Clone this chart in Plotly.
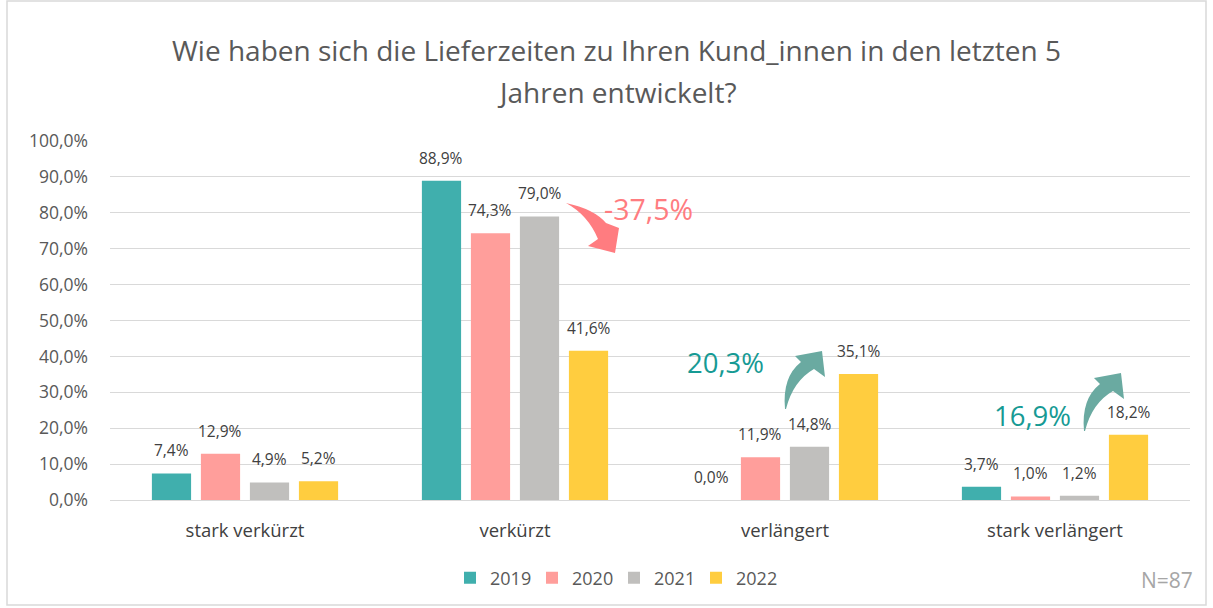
import plotly.graph_objects as go

categories = ["stark verkürzt", "verkürzt", "verlängert", "stark verlängert"]
years = ["2019", "2020", "2021", "2022"]
v2019 = [7.4, 88.9, 0.0, 3.7]
v2020 = [12.9, 74.3, 11.9, 1.0]
v2021 = [4.9, 79.0, 14.8, 1.2]
v2022 = [5.2, 41.6, 35.1, 18.2]
series = [v2019, v2020, v2021, v2022]
colors = ["#40AFAD", "#FF9E9B", "#C0BFBD", "#FFCD3F"]

title_lines = ["Wie haben sich die Lieferzeiten zu Ihren Kund_innen in den letzten 5",
               "Jahren entwickelt?"]
callouts = ["-37,5%", "20,3%", "16,9%"]
n_text = "N=87"

FONT = "Open Sans"
W, H = 1213, 608
L, R, T, B = 110, 1190, 141, 500


def px(x):
    return (x - L) / (R - L)


def py(y):
    return (B - y) / (B - T)


def fmt(v):
    return f"{v:.1f}".replace(".", ",") + "%"


fig = go.Figure()
for yr, vals, col in zip(years, series, colors):
    fig.add_trace(go.Bar(name=yr, x=categories, y=vals, marker_color=col,
                         marker_line_width=0, hoverinfo="skip"))

# data labels
slot = (R - L) / 4 * (1 - 0.274) / 4
for i, vals in enumerate(series):
    off = (i - 1.5) * slot
    for c, v in zip(categories, vals):
        fig.add_annotation(x=c, y=v, xref="x", yref="y", text=fmt(v), showarrow=False,
                           xshift=off, yshift=23, yanchor="middle", xanchor="center",
                           font=dict(family=FONT, size=15.5, color="#404040"))


def paper_text(x, y, text, size, color, xanchor="center"):
    fig.add_annotation(x=px(x), y=py(y), xref="paper", yref="paper", text=text,
                       showarrow=False, xanchor=xanchor, yanchor="middle",
                       font=dict(family=FONT, size=size, color=color))


# title
paper_text(616, 50, title_lines[0], 28, "#595959")
paper_text(616, 92, title_lines[1], 28, "#595959")

# callouts
paper_text(648, 209, callouts[0], 28.5, "#FF7C80")
paper_text(725, 362, callouts[1], 27.5, "#169A94")
paper_text(1032, 415, callouts[2], 27.5, "#169A94")
paper_text(1195, 580, n_text, 21, "#A6A6A6", xanchor="right")


def path(cmds):
    out = []
    for c in cmds:
        if c[0] in ("M", "L"):
            out.append(f"{c[0]} {px(c[1]):.5f},{py(c[2]):.5f}")
        elif c[0] == "Q":
            out.append(f"Q {px(c[1]):.5f},{py(c[2]):.5f} {px(c[3]):.5f},{py(c[4]):.5f}")
    return " ".join(out) + " Z"


shapes = []
# red arrow
red = [("M", 566, 203), ("Q", 594, 209, 606, 223), ("L", 619, 228), ("L", 615, 253),
       ("L", 588, 246), ("L", 598, 239), ("Q", 588, 215, 566, 203)]
shapes.append(dict(type="path", xref="paper", yref="paper", path=path(red),
                   fillcolor="#FF7C80", line=dict(width=0)))


def teal(dx, dy):
    pts = [("M", 785, 409), ("Q", 782, 377, 801, 362), ("L", 795, 356), ("L", 822, 351),
           ("L", 825, 377), ("L", 814, 369), ("Q", 793, 381, 786, 409)]
    res = []
    for p in pts:
        if p[0] == "Q":
            res.append(("Q", p[1] + dx, p[2] + dy, p[3] + dx, p[4] + dy))
        else:
            res.append((p[0], p[1] + dx, p[2] + dy))
    return res


for dx, dy in [(0, 0), (299, 22)]:
    shapes.append(dict(type="path", xref="paper", yref="paper", path=path(teal(dx, dy)),
                       fillcolor="#6AAAA1", line=dict(width=0)))

# outer border
shapes.append(dict(type="rect", xref="paper", yref="paper", x0=px(7), x1=px(1206),
                   y0=py(605), y1=py(1), line=dict(color="#D9D9D9", width=1.5),
                   fillcolor="rgba(0,0,0,0)", layer="below"))

fig.update_layout(
    width=W, height=H,
    margin=dict(l=L, r=W - R, t=T, b=H - B, pad=0),
    paper_bgcolor="white", plot_bgcolor="white",
    barmode="group", bargap=0.274, bargroupgap=0.2,
    separators=", ",
    font=dict(family=FONT, color="#595959"),
    shapes=shapes,
    showlegend=True,
    legend=dict(orientation="h", x=px(614), xanchor="center", y=py(578), yanchor="middle",
                font=dict(family=FONT, size=18, color="#595959"), itemwidth=30,
                entrywidth=37, traceorder="normal"),
    xaxis=dict(showgrid=False, showline=True, linecolor="#D9D9D9", linewidth=1,
               ticks="", tickfont=dict(family=FONT, size=18.5, color="#404040"),
               ticklabelstandoff=14, fixedrange=True),
    yaxis=dict(range=[0, 100], dtick=10, tickformat=".1f", ticksuffix="%",
               showgrid=True, gridcolor="#D9D9D9", gridwidth=1, zeroline=False,
               ticks="", tickfont=dict(family=FONT, size=17.5, color="#595959"),
               ticklabelstandoff=21, fixedrange=True),
)

fig.write_html("out.html", config={"displayModeBar": False},
               post_script="document.body.style.margin='0';")
